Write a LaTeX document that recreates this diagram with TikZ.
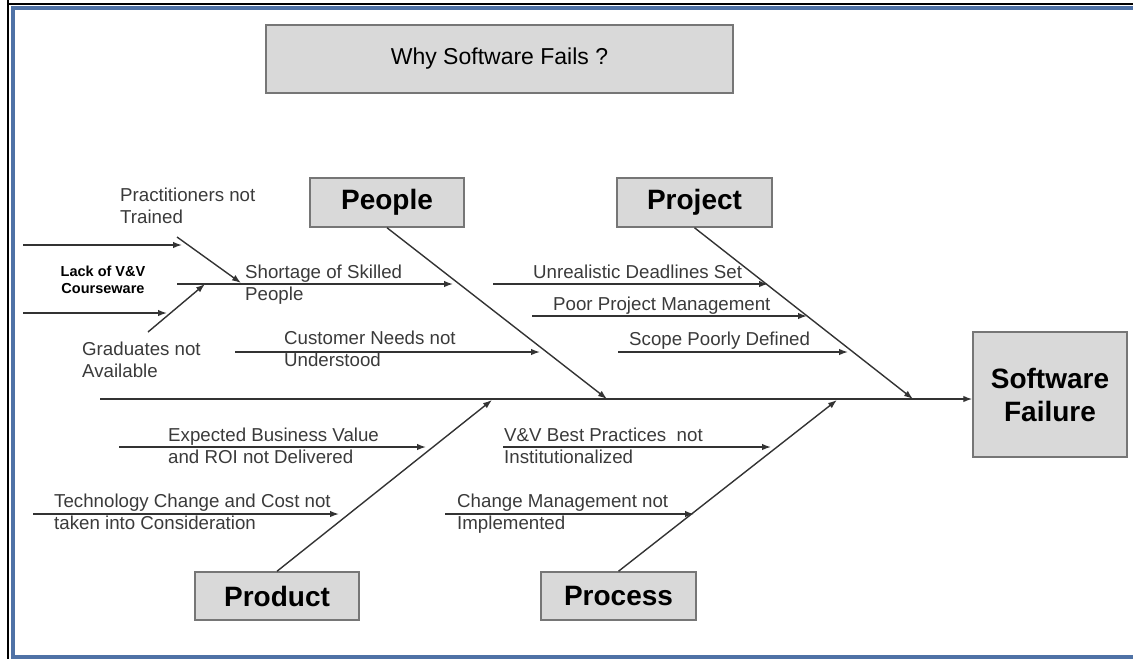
\documentclass[tikz,border=0pt]{standalone}
\usepackage{fontspec}
\setmainfont{Liberation Sans}
\usetikzlibrary{arrows.meta}
\definecolor{boxfill}{HTML}{D9D9D9}
\definecolor{boxline}{HTML}{767676}
\definecolor{labelgray}{HTML}{3A3A3A}
\definecolor{frameblue}{HTML}{4F72A6}
\newcommand\twoline[2]{\begin{tabular}[t]{@{}l@{}}#1\\#2\end{tabular}}
\begin{document}
\begin{tikzpicture}[x=1pt,y=-1pt,
  catbox/.style={draw=boxline, line width=1.5pt, fill=boxfill, inner sep=0pt,
    text=black, font=\fontsize{28}{33}\selectfont\bfseries},
  lbl/.style={anchor=base west, inner sep=0pt, text=labelgray,
    font=\fontsize{18.7}{22}\selectfont},
  arr/.style={draw=black!80, line width=1.4pt, -{Latex[length=9pt,width=6.5pt]}},
]
\useasboundingbox (0,0) rectangle (1133,659);
% page frame
\draw[black, line width=2pt] (8,0) -- (8,659);
\draw[black, line width=1.5pt] (8,4) -- (1133,4);
\draw[frameblue, line width=4pt] (1133,7.5) -- (12.5,7.5) -- (12.5,657) -- (1133,657);

% title
\node[draw=boxline, line width=1.5pt, fill=boxfill, minimum width=467pt, minimum height=68pt,
  text=black, font=\fontsize{23}{27}\selectfont] (title) at (499.5,59) {Why Software Fails ?};

% category boxes and effect
\node[catbox, minimum width=154pt, minimum height=49pt] (people)  at (387,202.5) {People};
\node[catbox, minimum width=155pt, minimum height=49pt] (project) at (694.5,202.5) {Project};
\node[catbox, minimum width=164pt, minimum height=48pt] (product) at (277,596) {Product};
\node[catbox, minimum width=155pt, minimum height=48pt] (process) at (618.5,596) {Process};
\node[catbox, minimum width=154pt, minimum height=125pt, align=center] (effect) at (1050,394.5)
  {Software\\Failure};

% spine
\coordinate (spine) at (100,399);
\draw[arr] (spine) -- (spine -| effect.west);

% main bones
\coordinate (tPeople)  at (607,399);
\coordinate (tProject) at (913,399);
\coordinate (tProduct) at (492,400);
\coordinate (tProcess) at (837,400);
\draw[arr] (people.south)  -- (tPeople);
\draw[arr] (project.south) -- (tProject);
\draw[arr] (product.north) -- (tProduct);
\draw[arr] (process.north) -- (tProcess);

% People causes
\coordinate (sS) at (177,284);  \coordinate (sE) at (453,284);
\coordinate (cS) at (235,352);  \coordinate (cE) at (540,352);
\draw[arr] (sS) -- (sE);
\draw[arr] (cS) -- (cE);
\node[lbl] (shortage) at (245,278) {\twoline{Shortage of Skilled}{People}};
\node[lbl] (customer) at (284,344) {\twoline{Customer Needs not}{Understood}};

% sub-causes of the skills shortage
\coordinate (p1S) at (23,245);  \coordinate (p1E) at (182,245);
\coordinate (p2S) at (23,313);  \coordinate (p2E) at (167,313);
\coordinate (d1S) at (177,237); \coordinate (d1E) at (241,283);
\coordinate (d2S) at (148,332); \coordinate (d2E) at (205,284);
\draw[arr] (p1S) -- (p1E);
\draw[arr] (p2S) -- (p2E);
\draw[arr] (d1S) -- (d1E);
\draw[arr] (d2S) -- (d2E);
\node[lbl] (practitioners) at (120,201) {\twoline{Practitioners not}{Trained}};
\node[lbl] (graduates) at (82,355) {\twoline{Graduates not}{Available}};
\node[anchor=base, inner sep=0pt, text=black, font=\fontsize{14.5}{17}\selectfont\bfseries]
  (courseware) at (103,276) {\begin{tabular}[t]{@{}c@{}}Lack of V\&V\\Courseware\end{tabular}};

% Project causes
\coordinate (uS) at (493,284); \coordinate (uE) at (768,284);
\coordinate (mS) at (532,316); \coordinate (mE) at (807,316);
\coordinate (dS) at (618,352); \coordinate (dE) at (848,352);
\draw[arr] (uS) -- (uE);
\draw[arr] (mS) -- (mE);
\draw[arr] (dS) -- (dE);
\node[lbl] (deadlines) at (533,278) {Unrealistic Deadlines Set};
\node[lbl] (pm) at (553,310) {Poor Project Management};
\node[lbl] (scope) at (629,345) {Scope Poorly Defined};

% Product causes
\coordinate (eS) at (119,447); \coordinate (eE) at (426,447);
\coordinate (tS) at (33,514);  \coordinate (tE) at (339,514);
\draw[arr] (eS) -- (eE);
\draw[arr] (tS) -- (tE);
\node[lbl] (business) at (168,441) {\twoline{Expected Business Value}{and ROI not Delivered}};
\node[lbl] (technology) at (54,507) {\twoline{Technology Change and Cost not}{taken into Consideration}};

% Process causes
\coordinate (vS) at (503,447); \coordinate (vE) at (771,447);
\coordinate (gS) at (445,514); \coordinate (gE) at (694,514);
\draw[arr] (vS) -- (vE);
\draw[arr] (gS) -- (gE);
\node[lbl] (bestpractice) at (504,441) {\twoline{V\&V Best Practices\ \ not}{Institutionalized}};
\node[lbl] (changemgmt) at (457,507) {\twoline{Change Management not}{Implemented}};
\end{tikzpicture}
\end{document}
